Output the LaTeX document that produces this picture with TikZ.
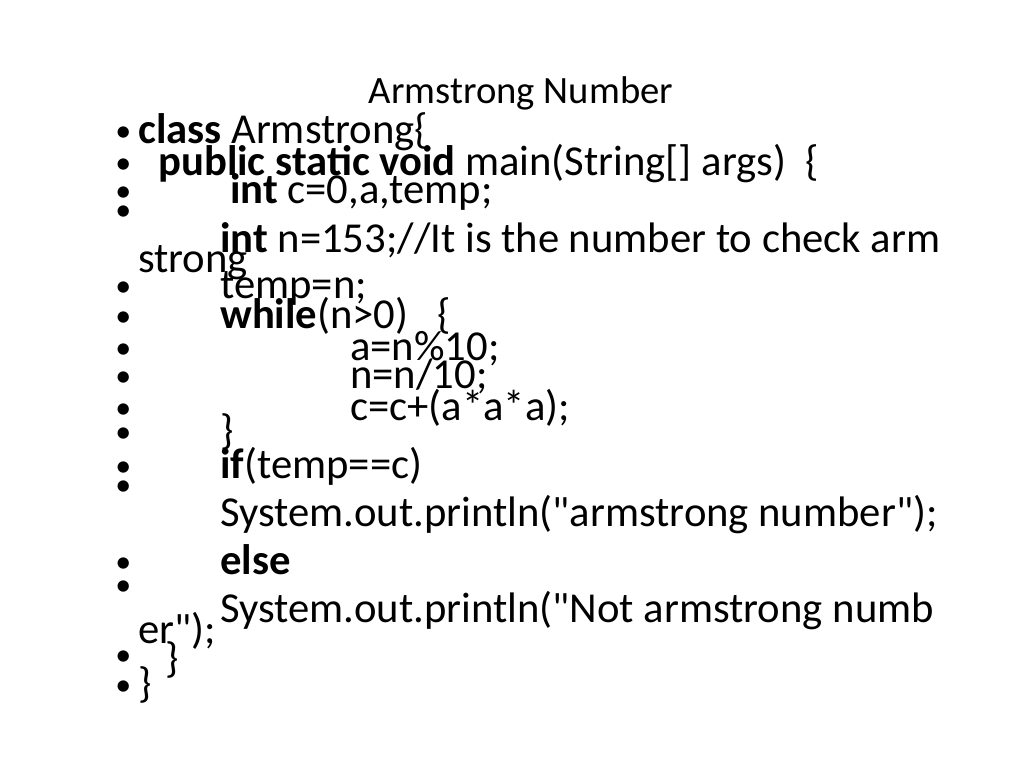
\documentclass[tikz,border=0pt]{standalone}
\usepackage{fontspec}
\setmainfont{Carlito}[Ligatures=TeXOff]
\tikzset{
  code/.style={anchor=base west, inner sep=0pt, font=\fontsize{32}{32}\selectfont},
  bullet/.style={anchor=base west, inner sep=0pt, font=\fontsize{24}{24}\selectfont},
  title/.style={anchor=base, inner sep=0pt, font=\fontsize{29}{29}\selectfont}
}
\begin{document}
\begin{tikzpicture}[x=0.75pt,y=-0.75pt]
  \useasboundingbox (0,0) rectangle (1024,768);
  \node (head) [title] at (521,103) {Armstrong Number};
  % bullets
  \foreach \y in {141,173,201,220,296,326,358,386,418,442,476,495,572,595,665,695}
    \node [bullet] at (115,\y) {•};
  % code lines
  \node (l1) [code] at (138,143) {\textbf{class} Armstrong\{};
  \node (l2) [code] at (158,175) {\textbf{public static void} main(String[] args)\ \ \{};
  \node (l3) [code] at (230,203) {\textbf{int} c=0,a,temp;};
  \node (l4) [code] at (220,252) {\textbf{int} n=153;//It is the number to check arm};
  \node (l4b) [code] at (138,272) {strong};
  \node (l5) [code] at (220,298) {temp=n;};
  \node (l6) [code] at (220,328) {\textbf{while}(n>0)\ \ \ \{};
  \node (l7) [code] at (350,360) {a=n\%10;};
  \node (l8) [code] at (350,388) {n=n/10;};
  \node (l9) [code] at (350,420) {c=c+(a*a*a);};
  \node (l10) [code] at (220,444) {\}};
  \node (l11) [code] at (220,478) {\textbf{if}(temp==c)};
  \node (l12) [code] at (220,526) {System.out.println("armstrong number");};
  \node (l13) [code] at (220,574) {\textbf{else}};
  \node (l14) [code] at (220,622) {System.out.println("Not armstrong numb};
  \node (l14b) [code] at (138,643) {er");};
  \node (l15) [code] at (165,672) {\}};
  \node (l16) [code] at (138,697) {\}};
\end{tikzpicture}
\end{document}
